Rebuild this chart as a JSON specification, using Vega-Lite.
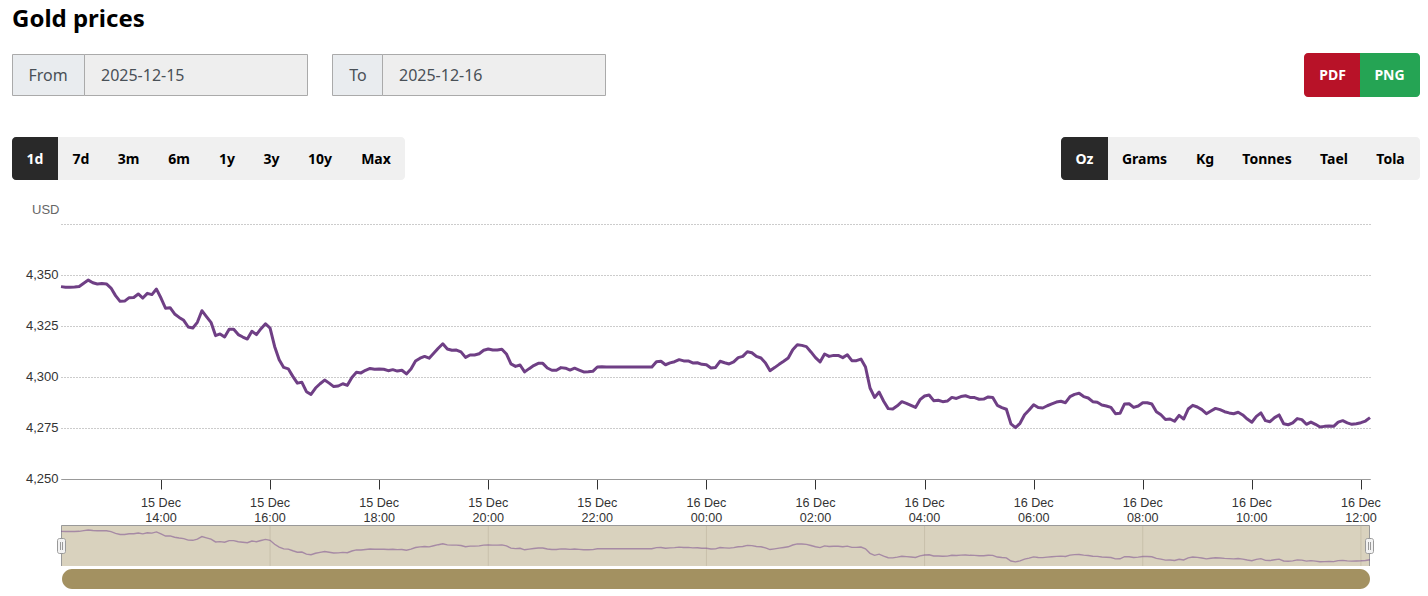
{
  "$schema": "https://vega.github.io/schema/vega-lite/v6.json",
  "description": "Gold prices, USD per ounce, 15-16 Dec 2025",
  "background": "white",
  "autosize": {"type": "none"},
  "padding": {"left": 61, "top": 224, "right": 58, "bottom": 117},
  "width": 1309,
  "height": 255,
  "config": {"view": {"stroke": null}},
  "datasets": {
    "prices": [
      {"t":"2025-12-15T12:10:00","p":4344.3},{"t":"2025-12-15T12:15:00","p":4344.0},{"t":"2025-12-15T12:20:00","p":4344.0},{"t":"2025-12-15T12:25:00","p":4344.1},{"t":"2025-12-15T12:30:00","p":4344.4},{"t":"2025-12-15T12:35:00","p":4346.0},{"t":"2025-12-15T12:40:00","p":4347.5},{"t":"2025-12-15T12:45:00","p":4346.2},{"t":"2025-12-15T12:50:00","p":4345.6},{"t":"2025-12-15T12:55:00","p":4345.8},
      {"t":"2025-12-15T13:00:00","p":4345.6},{"t":"2025-12-15T13:05:00","p":4343.6},{"t":"2025-12-15T13:10:00","p":4339.9},{"t":"2025-12-15T13:15:00","p":4337.1},{"t":"2025-12-15T13:20:00","p":4337.2},{"t":"2025-12-15T13:25:00","p":4338.9},{"t":"2025-12-15T13:30:00","p":4339.0},{"t":"2025-12-15T13:35:00","p":4340.7},{"t":"2025-12-15T13:40:00","p":4338.7},{"t":"2025-12-15T13:45:00","p":4341.0},{"t":"2025-12-15T13:50:00","p":4340.4},{"t":"2025-12-15T13:55:00","p":4343.1},
      {"t":"2025-12-15T14:00:00","p":4338.7},{"t":"2025-12-15T14:05:00","p":4333.7},{"t":"2025-12-15T14:10:00","p":4334.0},{"t":"2025-12-15T14:15:00","p":4330.9},{"t":"2025-12-15T14:20:00","p":4329.2},{"t":"2025-12-15T14:25:00","p":4327.8},{"t":"2025-12-15T14:30:00","p":4324.5},{"t":"2025-12-15T14:35:00","p":4324.0},{"t":"2025-12-15T14:40:00","p":4326.8},{"t":"2025-12-15T14:45:00","p":4332.5},{"t":"2025-12-15T14:50:00","p":4329.6},{"t":"2025-12-15T14:55:00","p":4326.8},
      {"t":"2025-12-15T15:00:00","p":4320.3},{"t":"2025-12-15T15:05:00","p":4321.1},{"t":"2025-12-15T15:10:00","p":4319.6},{"t":"2025-12-15T15:15:00","p":4323.4},{"t":"2025-12-15T15:20:00","p":4323.4},{"t":"2025-12-15T15:25:00","p":4320.8},{"t":"2025-12-15T15:30:00","p":4319.6},{"t":"2025-12-15T15:35:00","p":4318.6},{"t":"2025-12-15T15:40:00","p":4322.4},{"t":"2025-12-15T15:45:00","p":4320.8},{"t":"2025-12-15T15:50:00","p":4323.7},{"t":"2025-12-15T15:55:00","p":4326.1},
      {"t":"2025-12-15T16:00:00","p":4324.0},{"t":"2025-12-15T16:05:00","p":4315.0},{"t":"2025-12-15T16:10:00","p":4308.5},{"t":"2025-12-15T16:15:00","p":4304.7},{"t":"2025-12-15T16:20:00","p":4304.0},{"t":"2025-12-15T16:25:00","p":4300.3},{"t":"2025-12-15T16:30:00","p":4297.0},{"t":"2025-12-15T16:35:00","p":4297.4},{"t":"2025-12-15T16:40:00","p":4292.8},{"t":"2025-12-15T16:45:00","p":4291.5},{"t":"2025-12-15T16:50:00","p":4294.6},{"t":"2025-12-15T16:55:00","p":4296.7},
      {"t":"2025-12-15T17:00:00","p":4298.5},{"t":"2025-12-15T17:05:00","p":4297.0},{"t":"2025-12-15T17:10:00","p":4295.3},{"t":"2025-12-15T17:15:00","p":4295.6},{"t":"2025-12-15T17:20:00","p":4296.7},{"t":"2025-12-15T17:25:00","p":4295.9},{"t":"2025-12-15T17:30:00","p":4299.8},{"t":"2025-12-15T17:35:00","p":4302.3},{"t":"2025-12-15T17:40:00","p":4302.0},{"t":"2025-12-15T17:45:00","p":4303.3},{"t":"2025-12-15T17:50:00","p":4304.2},{"t":"2025-12-15T17:55:00","p":4303.8},
      {"t":"2025-12-15T18:00:00","p":4303.9},{"t":"2025-12-15T18:05:00","p":4303.8},{"t":"2025-12-15T18:10:00","p":4303.1},{"t":"2025-12-15T18:15:00","p":4303.6},{"t":"2025-12-15T18:20:00","p":4302.9},{"t":"2025-12-15T18:25:00","p":4303.3},{"t":"2025-12-15T18:30:00","p":4301.5},{"t":"2025-12-15T18:35:00","p":4303.9},{"t":"2025-12-15T18:40:00","p":4307.8},{"t":"2025-12-15T18:45:00","p":4309.2},{"t":"2025-12-15T18:50:00","p":4310.1},{"t":"2025-12-15T18:55:00","p":4309.2},
      {"t":"2025-12-15T19:00:00","p":4311.6},{"t":"2025-12-15T19:05:00","p":4314.1},{"t":"2025-12-15T19:10:00","p":4316.3},{"t":"2025-12-15T19:15:00","p":4313.7},{"t":"2025-12-15T19:20:00","p":4313.1},{"t":"2025-12-15T19:25:00","p":4313.2},{"t":"2025-12-15T19:30:00","p":4312.3},{"t":"2025-12-15T19:35:00","p":4309.6},{"t":"2025-12-15T19:40:00","p":4310.8},{"t":"2025-12-15T19:45:00","p":4310.8},{"t":"2025-12-15T19:50:00","p":4311.4},{"t":"2025-12-15T19:55:00","p":4313.1},
      {"t":"2025-12-15T20:00:00","p":4313.7},{"t":"2025-12-15T20:05:00","p":4313.2},{"t":"2025-12-15T20:10:00","p":4313.2},{"t":"2025-12-15T20:15:00","p":4313.6},{"t":"2025-12-15T20:20:00","p":4311.3},{"t":"2025-12-15T20:25:00","p":4306.4},{"t":"2025-12-15T20:30:00","p":4305.2},{"t":"2025-12-15T20:35:00","p":4305.9},{"t":"2025-12-15T20:40:00","p":4302.5},{"t":"2025-12-15T20:45:00","p":4304.1},{"t":"2025-12-15T20:50:00","p":4305.6},{"t":"2025-12-15T20:55:00","p":4306.7},
      {"t":"2025-12-15T21:00:00","p":4306.7},{"t":"2025-12-15T21:05:00","p":4304.4},{"t":"2025-12-15T21:10:00","p":4303.3},{"t":"2025-12-15T21:15:00","p":4303.3},{"t":"2025-12-15T21:20:00","p":4304.6},{"t":"2025-12-15T21:25:00","p":4304.3},{"t":"2025-12-15T21:30:00","p":4303.4},{"t":"2025-12-15T21:35:00","p":4304.3},{"t":"2025-12-15T21:40:00","p":4303.4},{"t":"2025-12-15T21:45:00","p":4302.5},{"t":"2025-12-15T21:50:00","p":4302.6},{"t":"2025-12-15T21:55:00","p":4302.8},
      {"t":"2025-12-15T22:00:00","p":4304.9},{"t":"2025-12-15T22:05:00","p":4305.0},{"t":"2025-12-15T22:10:00","p":4304.9},{"t":"2025-12-15T22:15:00","p":4304.9},{"t":"2025-12-15T22:20:00","p":4304.9},{"t":"2025-12-15T22:25:00","p":4304.9},{"t":"2025-12-15T22:30:00","p":4304.9},{"t":"2025-12-15T22:35:00","p":4304.9},{"t":"2025-12-15T22:40:00","p":4304.9},{"t":"2025-12-15T22:45:00","p":4304.9},{"t":"2025-12-15T22:50:00","p":4304.9},{"t":"2025-12-15T22:55:00","p":4304.9},
      {"t":"2025-12-15T23:00:00","p":4304.9},{"t":"2025-12-15T23:05:00","p":4307.5},{"t":"2025-12-15T23:10:00","p":4307.7},{"t":"2025-12-15T23:15:00","p":4306.0},{"t":"2025-12-15T23:20:00","p":4306.9},{"t":"2025-12-15T23:25:00","p":4307.5},{"t":"2025-12-15T23:30:00","p":4308.5},{"t":"2025-12-15T23:35:00","p":4307.9},{"t":"2025-12-15T23:40:00","p":4307.9},{"t":"2025-12-15T23:45:00","p":4306.9},{"t":"2025-12-15T23:50:00","p":4307.0},{"t":"2025-12-15T23:55:00","p":4306.2},
      {"t":"2025-12-16T00:00:00","p":4306.0},{"t":"2025-12-16T00:05:00","p":4304.4},{"t":"2025-12-16T00:10:00","p":4304.7},{"t":"2025-12-16T00:15:00","p":4307.7},{"t":"2025-12-16T00:20:00","p":4307.0},{"t":"2025-12-16T00:25:00","p":4306.4},{"t":"2025-12-16T00:30:00","p":4307.4},{"t":"2025-12-16T00:35:00","p":4309.5},{"t":"2025-12-16T00:40:00","p":4310.1},{"t":"2025-12-16T00:45:00","p":4312.4},{"t":"2025-12-16T00:50:00","p":4311.9},{"t":"2025-12-16T00:55:00","p":4310.1},
      {"t":"2025-12-16T01:00:00","p":4309.3},{"t":"2025-12-16T01:05:00","p":4306.9},{"t":"2025-12-16T01:10:00","p":4303.1},{"t":"2025-12-16T01:15:00","p":4304.6},{"t":"2025-12-16T01:20:00","p":4306.2},{"t":"2025-12-16T01:25:00","p":4307.7},{"t":"2025-12-16T01:30:00","p":4309.3},{"t":"2025-12-16T01:35:00","p":4313.4},{"t":"2025-12-16T01:40:00","p":4315.8},{"t":"2025-12-16T01:45:00","p":4315.5},{"t":"2025-12-16T01:50:00","p":4314.9},{"t":"2025-12-16T01:55:00","p":4312.3},
      {"t":"2025-12-16T02:00:00","p":4309.5},{"t":"2025-12-16T02:05:00","p":4307.4},{"t":"2025-12-16T02:10:00","p":4311.3},{"t":"2025-12-16T02:15:00","p":4310.1},{"t":"2025-12-16T02:20:00","p":4310.6},{"t":"2025-12-16T02:25:00","p":4310.6},{"t":"2025-12-16T02:30:00","p":4309.5},{"t":"2025-12-16T02:35:00","p":4310.9},{"t":"2025-12-16T02:40:00","p":4308.0},{"t":"2025-12-16T02:45:00","p":4308.0},{"t":"2025-12-16T02:50:00","p":4308.8},{"t":"2025-12-16T02:55:00","p":4304.9},
      {"t":"2025-12-16T03:00:00","p":4294.6},{"t":"2025-12-16T03:05:00","p":4290.0},{"t":"2025-12-16T03:10:00","p":4292.6},{"t":"2025-12-16T03:15:00","p":4288.1},{"t":"2025-12-16T03:20:00","p":4284.5},{"t":"2025-12-16T03:25:00","p":4284.3},{"t":"2025-12-16T03:30:00","p":4285.9},{"t":"2025-12-16T03:35:00","p":4287.9},{"t":"2025-12-16T03:40:00","p":4287.1},{"t":"2025-12-16T03:45:00","p":4286.1},{"t":"2025-12-16T03:50:00","p":4285.1},{"t":"2025-12-16T03:55:00","p":4288.9},
      {"t":"2025-12-16T04:00:00","p":4290.7},{"t":"2025-12-16T04:05:00","p":4291.2},{"t":"2025-12-16T04:10:00","p":4288.4},{"t":"2025-12-16T04:15:00","p":4288.6},{"t":"2025-12-16T04:20:00","p":4287.9},{"t":"2025-12-16T04:25:00","p":4288.2},{"t":"2025-12-16T04:30:00","p":4290.0},{"t":"2025-12-16T04:35:00","p":4289.5},{"t":"2025-12-16T04:40:00","p":4290.4},{"t":"2025-12-16T04:45:00","p":4290.8},{"t":"2025-12-16T04:50:00","p":4290.0},{"t":"2025-12-16T04:55:00","p":4289.9},
      {"t":"2025-12-16T05:00:00","p":4289.1},{"t":"2025-12-16T05:05:00","p":4289.2},{"t":"2025-12-16T05:10:00","p":4290.2},{"t":"2025-12-16T05:15:00","p":4290.0},{"t":"2025-12-16T05:20:00","p":4286.1},{"t":"2025-12-16T05:25:00","p":4285.0},{"t":"2025-12-16T05:30:00","p":4284.2},{"t":"2025-12-16T05:35:00","p":4277.0},{"t":"2025-12-16T05:40:00","p":4275.2},{"t":"2025-12-16T05:45:00","p":4277.3},{"t":"2025-12-16T05:50:00","p":4281.5},{"t":"2025-12-16T05:55:00","p":4283.8},
      {"t":"2025-12-16T06:00:00","p":4286.4},{"t":"2025-12-16T06:05:00","p":4285.0},{"t":"2025-12-16T06:10:00","p":4284.8},{"t":"2025-12-16T06:15:00","p":4285.9},{"t":"2025-12-16T06:20:00","p":4286.8},{"t":"2025-12-16T06:25:00","p":4287.7},{"t":"2025-12-16T06:30:00","p":4288.1},{"t":"2025-12-16T06:35:00","p":4287.4},{"t":"2025-12-16T06:40:00","p":4290.4},{"t":"2025-12-16T06:45:00","p":4291.5},{"t":"2025-12-16T06:50:00","p":4292.0},{"t":"2025-12-16T06:55:00","p":4290.4},
      {"t":"2025-12-16T07:00:00","p":4289.7},{"t":"2025-12-16T07:05:00","p":4287.9},{"t":"2025-12-16T07:10:00","p":4287.6},{"t":"2025-12-16T07:15:00","p":4286.3},{"t":"2025-12-16T07:20:00","p":4285.8},{"t":"2025-12-16T07:25:00","p":4285.1},{"t":"2025-12-16T07:30:00","p":4282.0},{"t":"2025-12-16T07:35:00","p":4282.2},{"t":"2025-12-16T07:40:00","p":4286.8},{"t":"2025-12-16T07:45:00","p":4286.9},{"t":"2025-12-16T07:50:00","p":4285.1},{"t":"2025-12-16T07:55:00","p":4285.8},
      {"t":"2025-12-16T08:00:00","p":4287.4},{"t":"2025-12-16T08:05:00","p":4287.4},{"t":"2025-12-16T08:10:00","p":4286.8},{"t":"2025-12-16T08:15:00","p":4283.0},{"t":"2025-12-16T08:20:00","p":4281.5},{"t":"2025-12-16T08:25:00","p":4279.2},{"t":"2025-12-16T08:30:00","p":4279.4},{"t":"2025-12-16T08:35:00","p":4278.3},{"t":"2025-12-16T08:40:00","p":4281.2},{"t":"2025-12-16T08:45:00","p":4279.4},{"t":"2025-12-16T08:50:00","p":4284.3},{"t":"2025-12-16T08:55:00","p":4286.1},
      {"t":"2025-12-16T09:00:00","p":4285.3},{"t":"2025-12-16T09:05:00","p":4284.0},{"t":"2025-12-16T09:10:00","p":4282.0},{"t":"2025-12-16T09:15:00","p":4283.3},{"t":"2025-12-16T09:20:00","p":4284.6},{"t":"2025-12-16T09:25:00","p":4284.0},{"t":"2025-12-16T09:30:00","p":4283.0},{"t":"2025-12-16T09:35:00","p":4282.4},{"t":"2025-12-16T09:40:00","p":4282.0},{"t":"2025-12-16T09:45:00","p":4282.7},{"t":"2025-12-16T09:50:00","p":4281.4},{"t":"2025-12-16T09:55:00","p":4279.4},
      {"t":"2025-12-16T10:00:00","p":4277.8},{"t":"2025-12-16T10:05:00","p":4280.7},{"t":"2025-12-16T10:10:00","p":4282.4},{"t":"2025-12-16T10:15:00","p":4278.6},{"t":"2025-12-16T10:20:00","p":4278.1},{"t":"2025-12-16T10:25:00","p":4280.1},{"t":"2025-12-16T10:30:00","p":4281.4},{"t":"2025-12-16T10:35:00","p":4277.1},{"t":"2025-12-16T10:40:00","p":4276.6},{"t":"2025-12-16T10:45:00","p":4277.5},{"t":"2025-12-16T10:50:00","p":4279.6},{"t":"2025-12-16T10:55:00","p":4279.1},
      {"t":"2025-12-16T11:00:00","p":4276.8},{"t":"2025-12-16T11:05:00","p":4277.9},{"t":"2025-12-16T11:10:00","p":4276.8},{"t":"2025-12-16T11:15:00","p":4275.5},{"t":"2025-12-16T11:20:00","p":4275.8},{"t":"2025-12-16T11:25:00","p":4276.0},{"t":"2025-12-16T11:30:00","p":4275.8},{"t":"2025-12-16T11:35:00","p":4277.9},{"t":"2025-12-16T11:40:00","p":4278.6},{"t":"2025-12-16T11:45:00","p":4277.5},{"t":"2025-12-16T11:50:00","p":4276.8},{"t":"2025-12-16T11:55:00","p":4277.1},
      {"t":"2025-12-16T12:00:00","p":4277.6},{"t":"2025-12-16T12:05:00","p":4278.4},{"t":"2025-12-16T12:10:00","p":4280.1}
    ],
    "navTicks": [
      {"t":"2025-12-15T16:00:00"},{"t":"2025-12-15T20:00:00"},{"t":"2025-12-16T00:00:00"},{"t":"2025-12-16T04:00:00"},{"t":"2025-12-16T08:00:00"},{"t":"2025-12-16T12:00:00"}
    ],
    "chrome": [
      {"part":"cell","tone":"prefix","left":12.5,"right":84.5,"top":54.5,"bottom":95.5},
      {"part":"cell","tone":"input","left":84.5,"right":307.5,"top":54.5,"bottom":95.5},
      {"part":"cell","tone":"prefix","left":332.5,"right":382.5,"top":54.5,"bottom":95.5},
      {"part":"cell","tone":"input","left":382.5,"right":605.5,"top":54.5,"bottom":95.5},
      {"part":"bar","tone":"toolbar","left":12,"right":405,"top":137,"bottom":180},
      {"part":"bar","tone":"toolbar","left":1061,"right":1420,"top":137,"bottom":180},
      {"part":"capL","tone":"active","left":12,"right":58,"top":137,"bottom":180},
      {"part":"capL","tone":"active","left":1061,"right":1108,"top":137,"bottom":180},
      {"part":"capL","tone":"pdf","left":1304,"right":1360,"top":53,"bottom":97},
      {"part":"capR","tone":"png","left":1360,"right":1420,"top":53,"bottom":97},
      {"part":"pane","tone":"pane","left":61.5,"right":1369.5,"top":525.5,"bottom":566},
      {"part":"track","tone":"track","left":62,"right":1370,"top":569,"bottom":589},
      {"part":"edge","tone":"edge","left":61.5,"right":1369.5,"top":525.5,"bottom":525.5},
      {"part":"edge","tone":"edge","left":61.5,"right":61.5,"top":525.5,"bottom":566},
      {"part":"edge","tone":"edge","left":1369.5,"right":1369.5,"top":525.5,"bottom":566},
      {"part":"handle","tone":"handle","left":57.5,"right":65.5,"top":538.5,"bottom":553.5},
      {"part":"handle","tone":"handle","left":1365.5,"right":1373.5,"top":538.5,"bottom":553.5},
      {"part":"grip","tone":"edge","left":60.5,"right":60.5,"top":542,"bottom":550},
      {"part":"grip","tone":"edge","left":62.5,"right":62.5,"top":542,"bottom":550},
      {"part":"grip","tone":"edge","left":1368.5,"right":1368.5,"top":542,"bottom":550},
      {"part":"grip","tone":"edge","left":1370.5,"right":1370.5,"top":542,"bottom":550},
      {"part":"title","tone":"black","label":"Gold prices","left":12,"top":20},
      {"part":"start","tone":"ink","label":"2025-12-15","left":101,"top":76},
      {"part":"start","tone":"ink","label":"2025-12-16","left":399,"top":76},
      {"part":"middle","tone":"ink","label":"From","left":48,"top":76},
      {"part":"middle","tone":"ink","label":"To","left":358,"top":76},
      {"part":"button","tone":"white","label":"PDF","left":1332.5,"top":76},
      {"part":"button","tone":"white","label":"PNG","left":1389.5,"top":76},
      {"part":"button","tone":"white","label":"1d","left":35,"top":160},
      {"part":"button","tone":"black","label":"7d","left":81,"top":160},
      {"part":"button","tone":"black","label":"3m","left":128.5,"top":160},
      {"part":"button","tone":"black","label":"6m","left":179,"top":160},
      {"part":"button","tone":"black","label":"1y","left":227,"top":160},
      {"part":"button","tone":"black","label":"3y","left":271.5,"top":160},
      {"part":"button","tone":"black","label":"10y","left":320,"top":160},
      {"part":"button","tone":"black","label":"Max","left":376,"top":160},
      {"part":"button","tone":"white","label":"Oz","left":1084.5,"top":160},
      {"part":"button","tone":"black","label":"Grams","left":1144.5,"top":160},
      {"part":"button","tone":"black","label":"Kg","left":1205,"top":160},
      {"part":"button","tone":"black","label":"Tonnes","left":1267,"top":160},
      {"part":"button","tone":"black","label":"Tael","left":1334,"top":160},
      {"part":"button","tone":"black","label":"Tola","left":1390.5,"top":160}
    ]
  },
  "resolve": {"scale": {"x": "independent", "y": "independent", "color": "independent"}, "axis": {"x": "independent", "y": "independent"}},
  "layer": [
    {
      "data": {"name": "chrome"},
      "encoding": {
        "x": {"field": "left", "type": "quantitative", "axis": null, "scale": {"domain": [61, 1370], "zero": false, "nice": false}},
        "y": {"field": "top", "type": "quantitative", "axis": null, "scale": {"domain": [479, 224], "zero": false, "nice": false}},
        "color": {
          "field": "tone",
          "type": "nominal",
          "legend": null,
          "scale": {
            "domain": ["prefix", "input", "toolbar", "active", "pdf", "png", "pane", "track", "edge", "handle", "black", "ink", "white"],
            "range": ["#e9ecef", "#eeeeee", "#f0f0f0", "#292929", "#b81228", "#25a454", "#d9d2be", "#a39161", "#999999", "#f2f2f2", "#000000", "#495057", "#ffffff"]
          }
        }
      },
      "layer": [
        {
          "transform": [{"filter": "datum.part == 'cell'"}],
          "mark": {"type": "rect", "stroke": "#aaaaaa", "strokeWidth": 1},
          "encoding": {"x2": {"field": "right"}, "y2": {"field": "bottom"}}
        },
        {
          "transform": [{"filter": "datum.part == 'bar'"}],
          "mark": {"type": "rect", "cornerRadius": 4},
          "encoding": {"x2": {"field": "right"}, "y2": {"field": "bottom"}}
        },
        {
          "transform": [{"filter": "datum.part == 'capL'"}],
          "mark": {"type": "rect", "cornerRadiusTopLeft": 4, "cornerRadiusBottomLeft": 4},
          "encoding": {"x2": {"field": "right"}, "y2": {"field": "bottom"}}
        },
        {
          "transform": [{"filter": "datum.part == 'capR'"}],
          "mark": {"type": "rect", "cornerRadiusTopRight": 4, "cornerRadiusBottomRight": 4},
          "encoding": {"x2": {"field": "right"}, "y2": {"field": "bottom"}}
        },
        {
          "transform": [{"filter": "datum.part == 'pane'"}],
          "mark": {"type": "rect"},
          "encoding": {"x2": {"field": "right"}, "y2": {"field": "bottom"}}
        },
        {
          "transform": [{"filter": "datum.part == 'track'"}],
          "mark": {"type": "rect", "cornerRadius": 10},
          "encoding": {"x2": {"field": "right"}, "y2": {"field": "bottom"}}
        },
        {
          "transform": [{"filter": "datum.part == 'edge'"}],
          "mark": {"type": "rule", "strokeWidth": 1},
          "encoding": {"x2": {"field": "right"}, "y2": {"field": "bottom"}}
        },
        {
          "transform": [{"filter": "datum.part == 'handle'"}],
          "mark": {"type": "rect", "stroke": "#999999", "strokeWidth": 1, "cornerRadius": 2},
          "encoding": {"x2": {"field": "right"}, "y2": {"field": "bottom"}}
        },
        {
          "transform": [{"filter": "datum.part == 'grip'"}],
          "mark": {"type": "rule", "strokeWidth": 1},
          "encoding": {"x2": {"field": "right"}, "y2": {"field": "bottom"}}
        },
        {
          "transform": [{"filter": "datum.part == 'title'"}],
          "mark": {"type": "text", "align": "left", "baseline": "middle", "font": "Noto Sans", "fontSize": 24, "fontWeight": "bold"},
          "encoding": {"text": {"field": "label"}}
        },
        {
          "transform": [{"filter": "datum.part == 'start'"}],
          "mark": {"type": "text", "align": "left", "baseline": "middle", "font": "Noto Sans", "fontSize": 16},
          "encoding": {"text": {"field": "label"}}
        },
        {
          "transform": [{"filter": "datum.part == 'middle'"}],
          "mark": {"type": "text", "align": "center", "baseline": "middle", "font": "Noto Sans", "fontSize": 16},
          "encoding": {"text": {"field": "label"}}
        },
        {
          "transform": [{"filter": "datum.part == 'button'"}],
          "mark": {"type": "text", "align": "center", "baseline": "middle", "font": "Noto Sans", "fontSize": 14, "fontWeight": "bold"},
          "encoding": {"text": {"field": "label"}}
        }
      ]
    },
    {
      "encoding": {
        "x": {"field": "t", "type": "temporal", "axis": null, "scale": {"nice": false}}
      },
      "layer": [
        {
          "data": {"name": "navTicks"},
          "mark": {"type": "rule", "color": "#c8c0ab", "strokeWidth": 1},
          "encoding": {
            "y": {"datum": 4356.6, "type": "quantitative", "axis": null, "scale": {"domain": [4463, 5041], "zero": false, "nice": false}},
            "y2": {"datum": 4265.9}
          }
        },
        {
          "data": {"name": "prices"},
          "mark": {"type": "line", "color": "#7b4f8f", "strokeWidth": 1.4, "opacity": 0.55},
          "encoding": {
            "y": {"field": "p", "type": "quantitative", "axis": null, "scale": {"domain": [4463, 5041], "zero": false, "nice": false}}
          }
        }
      ]
    },
    {
      "data": {"name": "prices"},
      "mark": {"type": "line", "color": "#6f3f85", "strokeWidth": 3, "strokeJoin": "round"},
      "encoding": {
        "x": {
          "field": "t",
          "type": "temporal",
          "scale": {"nice": false},
          "axis": {
            "title": null,
            "grid": false,
            "values": [1765807200000, 1765814400000, 1765821600000, 1765828800000, 1765836000000, 1765843200000, 1765850400000, 1765857600000, 1765864800000, 1765872000000, 1765879200000, 1765886400000],
            "tickSize": 10,
            "tickColor": "#333333",
            "domainColor": "#999999",
            "labelFont": "Liberation Sans",
            "labelFontSize": 12.6,
            "labelColor": "#333333",
            "labelPadding": 7,
            "labelLineHeight": 15,
            "labelOffset": -0.5,
            "labelFlush": false,
            "labelOverlap": false,
            "labelExpr": "[timeFormat(datum.value, '%d %b'), timeFormat(datum.value, '%H:%M')]"
          }
        },
        "y": {
          "field": "p",
          "type": "quantitative",
          "scale": {"domain": [4250, 4375], "zero": false, "nice": false},
          "axis": {
            "title": "USD",
            "titleAngle": 0,
            "titleX": -2,
            "titleY": -15,
            "titleAlign": "right",
            "titleBaseline": "middle",
            "titleFont": "Liberation Sans",
            "titleFontSize": 13,
            "titleFontWeight": "normal",
            "titleColor": "#666666",
            "values": [4250, 4275, 4300, 4325, 4350, 4375],
            "labelExpr": "datum.value == 4375 ? '' : format(datum.value, ',')",
            "labelFont": "Liberation Sans",
            "labelFontSize": 13,
            "labelColor": "#333333",
            "labelPadding": 3,
            "labelOffset": -1,
            "ticks": false,
            "domain": false,
            "grid": true,
            "gridColor": "#999999",
            "gridDash": [1, 2],
            "gridWidth": 1
          }
        }
      }
    }
  ]
}
